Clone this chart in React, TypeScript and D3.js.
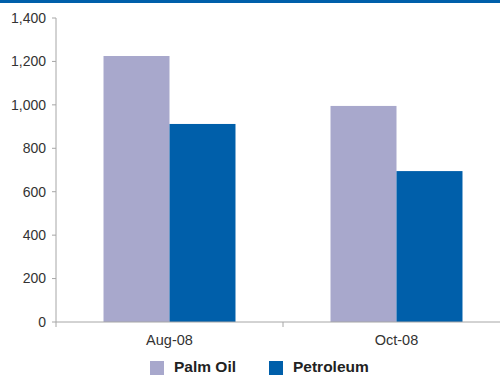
import * as d3 from 'd3';
import React from 'react';

const categories = ['Aug-08', 'Oct-08'];
const seriesNames = ['Palm Oil', 'Petroleum'];
const palmOil = [1225, 995];
const petroleum = [912, 695];
const yTicks = [0, 200, 400, 600, 800, 1000, 1200, 1400];

const colors = ['#a8a8cc', '#005faa'];

const width = 500;
const height = 375;
const margin = { top: 18, left: 56, bottom: 53 };

export default function App() {
  const y = d3.scaleLinear().domain([0, 1400]).range([height - margin.bottom, margin.top]);
  const x = d3.scaleBand<string>().domain(categories).range([margin.left, 510]).paddingInner(0).paddingOuter(0);
  const inner = d3.scaleBand<string>().domain(seriesNames).range([0, x.bandwidth()]).paddingOuter(0.72).paddingInner(0);
  const values = [palmOil, petroleum];
  const fmt = d3.format(',');
  const axisColor = '#a6a6a6';
  const textColor = '#333';

  return (
    <svg width={width} height={height} style={{ position: 'absolute', left: 0, top: 0, fontFamily: 'Arial, "Liberation Sans", sans-serif' }}>
      <rect x={0} y={0} width={width} height={3} fill="#005faa" />
      {categories.map((c, i) =>
        seriesNames.map((s, j) => (
          <rect
            key={c + s}
            x={(x(c) ?? 0) + (inner(s) ?? 0)}
            y={y(values[j][i])}
            width={inner.bandwidth()}
            height={y(0) - y(values[j][i])}
            fill={colors[j]}
          />
        ))
      )}
      <line x1={margin.left} x2={margin.left} y1={y(1400)} y2={y(0)} stroke={axisColor} />
      {yTicks.map(t => (
        <g key={t}>
          <line x1={margin.left - 4} x2={margin.left} y1={y(t)} y2={y(t)} stroke={axisColor} />
          <text x={margin.left - 10} y={y(t)} dy="0.35em" textAnchor="end" fontSize={14} fill={textColor}>
            {fmt(t)}
          </text>
        </g>
      ))}
      <line x1={margin.left} x2={width} y1={y(0)} y2={y(0)} stroke={axisColor} />
      {[margin.left, ...categories.slice(1).map(c => x(c) ?? 0)].map(tx => (
        <line key={tx} x1={tx} x2={tx} y1={y(0)} y2={y(0) + 5} stroke={axisColor} />
      ))}
      {categories.map(c => (
        <text key={c} x={(x(c) ?? 0) + x.bandwidth() / 2} y={y(0) + 23} textAnchor="middle" fontSize={14.5} fill={textColor}>
          {c}
        </text>
      ))}
      {seriesNames.map((s, j) => {
        const lx = j === 0 ? 150 : 269;
        return (
          <g key={s}>
            <rect x={lx} y={361} width={14} height={14} fill={colors[j]} />
            <text x={lx + 24} y={372} fontSize={15.5} fontWeight="bold" fill="#222">
              {s}
            </text>
          </g>
        );
      })}
    </svg>
  );
}
